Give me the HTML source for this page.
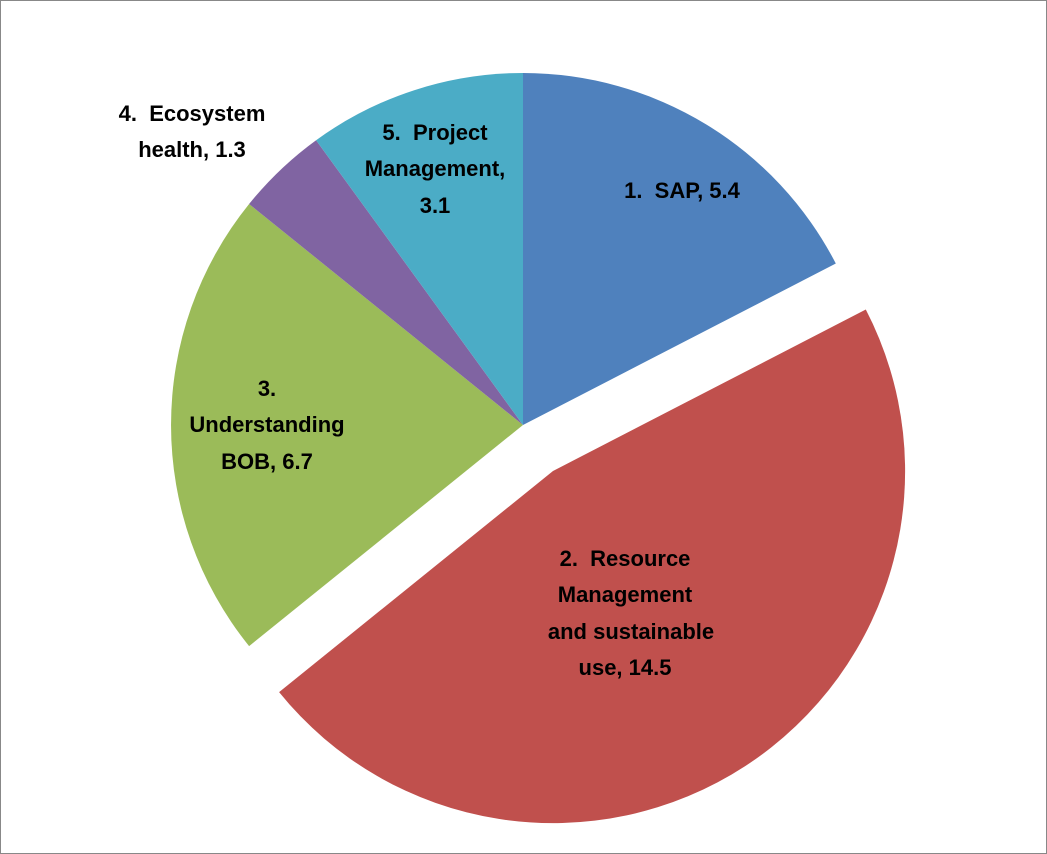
<!DOCTYPE html>
<html><head><style>
body{margin:0;background:#fff;}
svg{display:block;}
text{font-family:"Liberation Sans",sans-serif;font-weight:bold;font-size:22px;fill:#000;white-space:pre;}
</style></head><body>
<svg width="1047" height="854" viewBox="0 0 1047 854">
<rect x="0.5" y="0.5" width="1046" height="853" fill="#fff" stroke="#888"/>
<path d="M523,425 L523,73 A352,352 0 0 1 835.8,263.5 Z" fill="#4F81BD"/>
<path d="M553,471 L865.8,309.5 A352,352 0 0 1 279.1,692.1 Z" fill="#C0504D"/>
<path d="M523,425 L249.1,646.1 A352,352 0 0 1 249.1,204 Z" fill="#9BBB59"/>
<path d="M523,425 L249.1,204 A352,352 0 0 1 316.1,140.2 Z" fill="#8064A2"/>
<path d="M523,425 L316.1,140.2 A352,352 0 0 1 523,73 Z" fill="#4BACC6"/>
<g text-anchor="middle">
<text x="682" y="198">1.  SAP, 5.4</text>
<text x="625" y="566">2.  Resource</text>
<text x="625" y="602">Management</text>
<text x="631" y="639">and sustainable</text>
<text x="625" y="675">use, 14.5</text>
<text x="267" y="396">3.</text>
<text x="267" y="432">Understanding</text>
<text x="267" y="469">BOB, 6.7</text>
<text x="192" y="121">4.  Ecosystem</text>
<text x="192" y="157">health, 1.3</text>
<text x="435" y="140">5.  Project</text>
<text x="435" y="176">Management,</text>
<text x="435" y="213">3.1</text>
</g>
</svg>
</body></html>
